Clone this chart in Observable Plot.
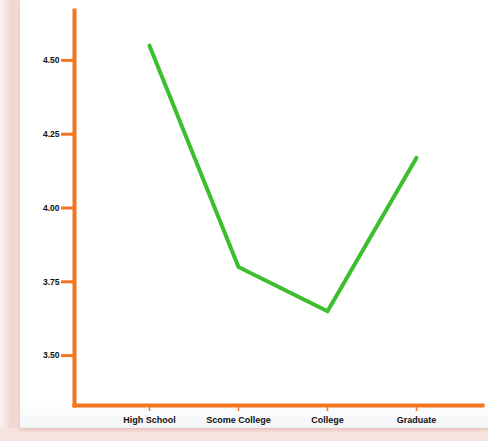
<!DOCTYPE html>
<html>
<head>
<meta charset="utf-8">
<script src="https://cdn.jsdelivr.net/npm/d3@7"></script>
<script src="https://cdn.jsdelivr.net/npm/@observablehq/plot@0.6"></script>
<style>
  html, body { margin: 0; padding: 0; }
  body { width: 488px; height: 441px; position: relative; overflow: hidden;
         background: linear-gradient(to right, #fbf1ef 0px, #f1d6d0 12px, #f3dcd7 20px); }
  #card { position: absolute; left: 20px; top: 0; width: 468px; height: 428px;
          background: linear-gradient(to bottom, #ffffff 0px, #ffffff 400px, #f3f4f6 428px);
          box-shadow: 0 2px 3px rgba(220,160,150,0.5); }
  #bottom { position: absolute; left: 0; top: 428px; width: 488px; height: 13px; background: #f6e2de; }
  #chart { position: absolute; left: 0; top: 0; }
</style>
</head>
<body>
<div id="bottom"></div>
<div id="card"></div>
<div id="chart"></div>
<script>
const categories = ["High School", "Scome College", "College", "Graduate"];
const values = [4.55, 3.80, 3.65, 4.17];
const yTicks = [3.50, 3.75, 4.00, 4.25, 4.50];

const data = categories.map((c, i) => ({category: c, value: values[i]}));
const orange = "#f47521";
const font = "'Liberation Sans', Arial, sans-serif";

const chart = Plot.plot({
  width: 488,
  height: 441,
  marginLeft: 74,
  marginRight: 6,
  marginTop: 10,
  marginBottom: 36,
  style: {background: "transparent", fontFamily: font, fontWeight: "bold", color: "#111"},
  x: {type: "point", domain: categories, range: [148, 417], padding: 0},
  y: {domain: [3.331, 4.669]},
  marks: [
    Plot.axisY({ticks: yTicks, tickFormat: d => d.toFixed(2), tickSize: 13, tickPadding: 2,
      stroke: orange, strokeWidth: 3, fill: "#111", fontSize: 8.5, label: null, letterSpacing: "-0.4px"}),
    Plot.axisX({tickSize: 6, tickPadding: 5, stroke: orange, strokeWidth: 1.5, fill: "#111",
      fontSize: 9, label: null, letterSpacing: "-0.5px"}),
    Plot.frame({anchor: "left", stroke: orange, strokeWidth: 4}),
    Plot.frame({anchor: "bottom", stroke: orange, strokeWidth: 4}),
    Plot.line(data, {x: "category", y: "value", stroke: "#3cbf2e", strokeWidth: 4,
      strokeLinecap: "round", strokeLinejoin: "round"})
  ]
});
document.getElementById("chart").appendChild(chart);
</script>
</body>
</html>
